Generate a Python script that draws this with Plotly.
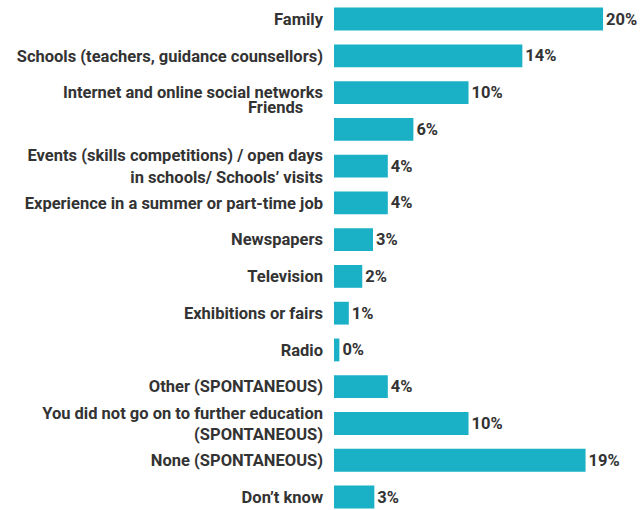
import plotly.graph_objects as go

# Sources of information on education and career options (% of respondents)
categories = [
    "Family",
    "Schools (teachers, guidance counsellors)",
    "Internet and online social networks",
    "Friends",
    "Events (skills competitions) / open days<br>in schools/ Schools’ visits",
    "Experience in a summer or part-time job",
    "Newspapers",
    "Television",
    "Exhibitions or fairs",
    "Radio",
    "Other (SPONTANEOUS)",
    "You did not go on to further education<br>(SPONTANEOUS)",
    "None (SPONTANEOUS)",
    "Don’t know",
]
values = [20, 14, 10, 5.9, 4, 4, 2.9, 2.1, 1.1, 0.4, 4, 10, 18.7, 3]

BAR_COLOR = "#1ab1c6"
TEXT_COLOR = "#333333"
FONT = "Roboto, sans-serif"
SIZE = 16.5

positions = list(range(len(categories)))
tick_text = ["" if c == "Friends" else c for c in categories]

fig = go.Figure(
    go.Bar(
        x=values,
        y=positions,
        orientation="h",
        width=0.62,
        marker=dict(color=BAR_COLOR, line=dict(width=0)),
        text=values,
        texttemplate="%{x:.0f}%",
        textposition="outside",
        textfont=dict(family=FONT, size=SIZE, color=TEXT_COLOR, weight="bold"),
        cliponaxis=False,
        hoverinfo="skip",
    )
)

# "Friends" label sits just under the Internet label
friends_idx = categories.index("Friends")
fig.add_annotation(
    x=0, xref="paper", y=friends_idx, yref="y",
    text="Friends", showarrow=False,
    xanchor="right", yanchor="middle",
    xshift=-29, yshift=22,
    font=dict(family=FONT, size=SIZE, color=TEXT_COLOR, weight="bold"),
)

fig.update_layout(
    width=644,
    height=510,
    margin=dict(l=334, r=10, t=0, b=0),
    paper_bgcolor="white",
    plot_bgcolor="white",
    showlegend=False,
    font=dict(family=FONT, size=SIZE, color=TEXT_COLOR, weight="bold"),
    xaxis=dict(
        range=[0, 22.3],
        visible=False,
        fixedrange=True,
    ),
    yaxis=dict(
        range=[13.353, -0.517],
        tickmode="array",
        tickvals=positions,
        ticktext=tick_text,
        showgrid=False,
        zeroline=False,
        showline=False,
        ticks="",
        ticklabelstandoff=10,
        tickfont=dict(family=FONT, size=SIZE, color=TEXT_COLOR, weight="bold"),
        fixedrange=True,
    ),
)

fig.write_html("out.html")
